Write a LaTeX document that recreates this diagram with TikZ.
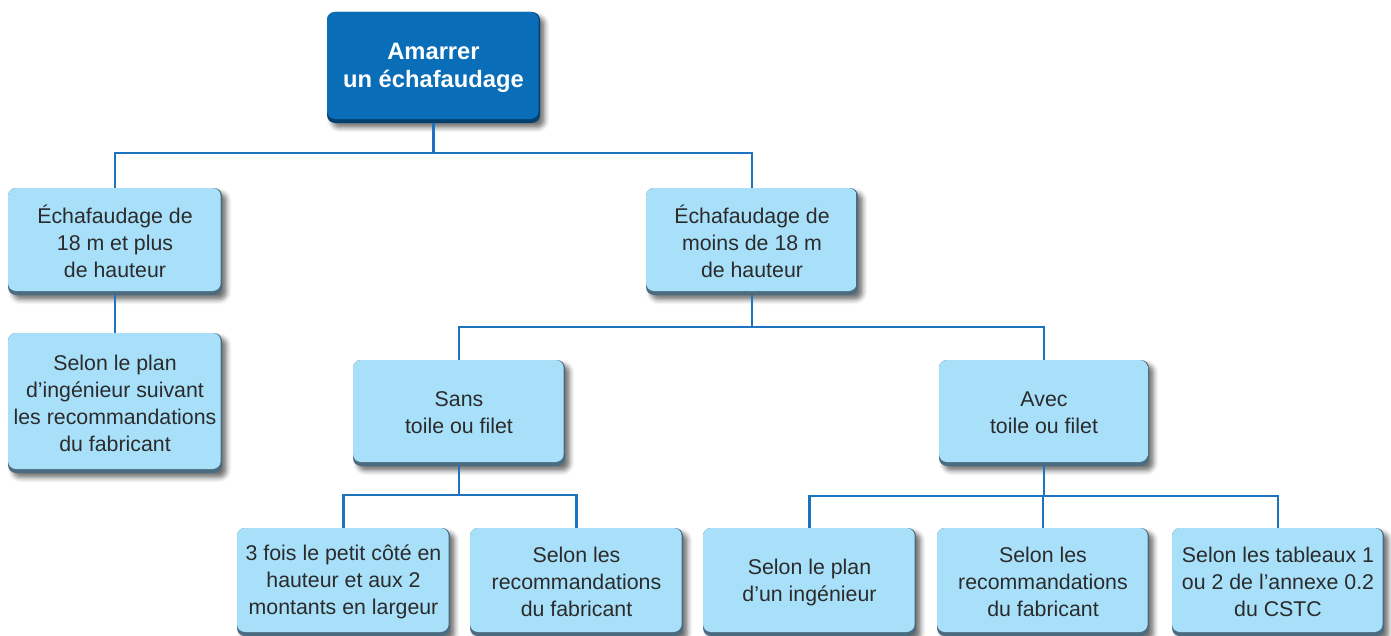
\documentclass[tikz,border=0pt]{standalone}
\usepackage{fontspec}
\setmainfont{Liberation Sans}
\usetikzlibrary{shadows.blur}
\definecolor{lb}{HTML}{A8E0FA}
\definecolor{lbtop}{HTML}{C4ECFD}
\definecolor{lbedge}{HTML}{4A6B80}
\definecolor{db}{HTML}{0A6DB8}
\definecolor{dbtop}{HTML}{1B7DC6}
\definecolor{dbedge}{HTML}{04406F}
\definecolor{ln}{HTML}{1E73BE}
\definecolor{tx}{HTML}{2B2B2B}
\pgfdeclareverticalshading{lbshade}{100bp}{color(0bp)=(lb!75!lbedge); color(6bp)=(lb); color(88bp)=(lb); color(100bp)=(lbtop)}
\pgfdeclareverticalshading{dbshade}{100bp}{color(0bp)=(db!75!dbedge); color(6bp)=(db); color(88bp)=(db); color(100bp)=(dbtop)}
\tikzset{
  boxbase/.style={rounded corners=6pt, inner sep=0pt, align=center,
    blur shadow={shadow xshift=3.5pt, shadow yshift=-3.5pt, shadow blur radius=3.5pt, shadow opacity=55}},
  lightbox/.style 2 args={boxbase, fill=lbedge, text=tx,
    font=\fontsize{16}{20.25}\selectfont,
    minimum width=#1*0.75pt, minimum height=#2*0.75pt,
    path picture={\shade[shading=lbshade, rounded corners=6pt]
      (path picture bounding box.north west) rectangle ([xshift=-1pt,yshift=3pt]path picture bounding box.south east);}},
  darkbox/.style 2 args={boxbase, fill=dbedge, text=white,
    font=\fontsize{17.8}{21}\selectfont\bfseries,
    minimum width=#1*0.75pt, minimum height=#2*0.75pt,
    path picture={\shade[shading=dbshade, rounded corners=6pt]
      (path picture bounding box.north west) rectangle ([xshift=-1pt,yshift=3pt]path picture bounding box.south east);}},
  conn/.style={draw=ln, line width=2pt}
}
\begin{document}
\begin{tikzpicture}[x=0.75pt,y=-0.75pt]
\useasboundingbox (0,0) rectangle (1391,635);
\clip (0,0) rectangle (1391,635);
\node[darkbox={213}{111}] (top) at (433.5,67.5) {Amarrer\\un échafaudage};
\node[lightbox={214}{107}] (L1) at (115,241.5) {Échafaudage de\\18 m et plus\\de hauteur};
\node[lightbox={214}{140}] (L2) at (115,403) {Selon le plan\\d’ingénieur suivant\\les recommandations\\du fabricant};
\node[lightbox={212}{107}] (R1) at (752,241.5) {Échafaudage de\\moins de 18 m\\de hauteur};
\node[lightbox={212}{106}] (S) at (459,413) {Sans\\toile ou filet};
\node[lightbox={210}{106}] (A) at (1044,413) {Avec\\toile ou filet};
\node[lightbox={213}{108}] (B1) at (343.5,582) {3 fois le petit côté en\\hauteur et aux 2\\montants en largeur};
\node[lightbox={213}{108}] (B2) at (576.5,582) {Selon les\\recommandations\\du fabricant};
\node[lightbox={213}{108}] (B3) at (809.5,582) {Selon le plan\\d’un ingénieur};
\node[lightbox={212}{108}] (B4) at (1043,582) {Selon les\\recommandations\\du fabricant};
\node[lightbox={212}{108}] (B5) at (1278,582) {Selon les tableaux 1\\ou 2 de l’annexe 0.2\\du CSTC};
\coordinate (y1) at (0,153);
\coordinate (y2) at (0,327);
\coordinate (y3) at (0,495);
\coordinate (y4) at (0,496);
\draw[conn] (top.south) -- (top.south |- y1);
\draw[conn] (L1.north) -- (L1.north |- y1) -- (R1.north |- y1) -- (R1.north);
\draw[conn] (L1.south) -- (L2.north);
\draw[conn] (R1.south) -- (R1.south |- y2);
\draw[conn] (S.north) -- (S.north |- y2) -- (A.north |- y2) -- (A.north);
\draw[conn] (S.south) -- (S.south |- y3);
\draw[conn] (B1.north) -- (B1.north |- y3) -- (B2.north |- y3) -- (B2.north);
\draw[conn] (A.south) -- (A.south |- y4);
\draw[conn] (B3.north) -- (B3.north |- y4) -- (B5.north |- y4) -- (B5.north);
\draw[conn] (B4.north) -- (B4.north |- y4);
\end{tikzpicture}
\end{document}
